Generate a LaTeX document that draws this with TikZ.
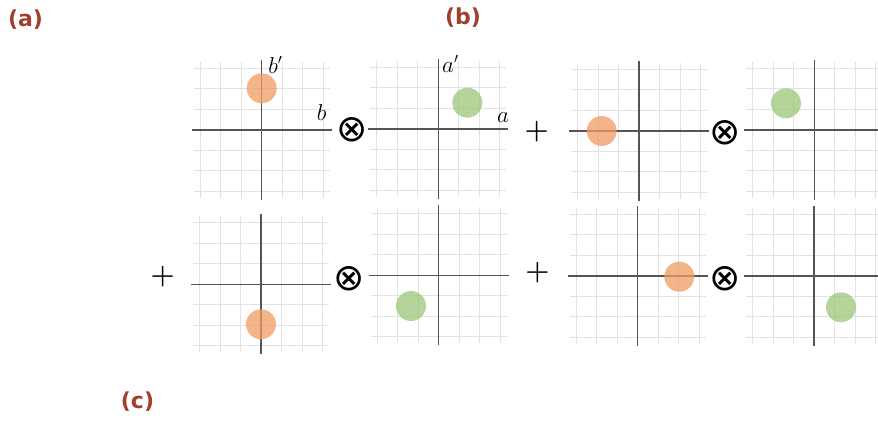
\documentclass[tikz,border=0pt]{standalone}
\usepackage{fontspec}
\newfontfamily\tagfont{DejaVu Sans}
\definecolor{tagred}{RGB}{160,64,44}
\definecolor{dotorange}{RGB}{240,155,99}
\definecolor{dotgreen}{RGB}{155,198,120}
\definecolor{gridgray}{RGB}{226,226,226}
\definecolor{axisgray}{RGB}{85,85,85}
\begin{document}
\begin{tikzpicture}[x=0.75pt, y=-0.75pt,
  gridline/.style={gridgray, line width=0.75pt},
  axisline/.style={axisgray, line width=1.1pt},
  dot/.style={circle, inner sep=0pt, minimum size=22.5pt, fill opacity=0.75},
  dotA/.style={dot, fill=dotorange},
  dotB/.style={dot, fill=dotgreen},
  op/.style={inner sep=0pt, font=\fontsize{20}{20}\selectfont\boldmath},
  tensor/.style={inner sep=0pt, font=\tagfont\fontsize{28}{28}\selectfont},
  lbl/.style={inner sep=0pt, font=\fontsize{16}{16}\selectfont},
  tag/.style={inner sep=0pt, text=tagred, font=\tagfont\bfseries\fontsize{16.5}{18}\selectfont}]
  \useasboundingbox (0,0) rectangle (878,423);
  % panels: grid and axes
  \foreach \pname/\cx/\cy in {p1/261.7/130, p2/438.3/129, p3/639/131, p4/814.3/130,
                              p5/261/284.3, p6/438.7/275.3, p7/637.7/276, p8/814/276} {
    \coordinate (\pname) at (\cx,\cy);
    \begin{scope}[shift={(\cx,\cy)}]
      \foreach \k in {-3,-2,-1,1,2,3} {
        \draw[gridline] (\k*20.5,-68) -- (\k*20.5,68);
        \draw[gridline] (-68,\k*20.5) -- (68,\k*20.5);
      }
      \draw[axisline] (-70,0) -- (70,0);
      \draw[axisline] (0,-70) -- (0,70);
    \end{scope}
  }
  % states
  \node[dotA] (o1) at (261.7,88.3) {};
  \node[dotB] (g1) at (467.3,102.7) {};
  \node[dotA] (o2) at (601.7,131) {};
  \node[dotB] (g2) at (786,103.3) {};
  \node[dotA] (o3) at (261,324.3) {};
  \node[dotB] (g3) at (411,306) {};
  \node[dotA] (o4) at (679.3,276.7) {};
  \node[dotB] (g4) at (841,307.3) {};
  % axis labels
  \node[lbl] (bp) at (275.5,65) {$b'$};
  \node[lbl] (bx) at (321.7,113) {$b$};
  \node[lbl] (ap) at (450.5,64) {$a'$};
  \node[lbl] (ax) at (503,118) {$a$};
  % operators
  \node[tensor] (t1) at (351.7,130) {⊗};
  \node[tensor] (t2) at (725,132.7) {⊗};
  \node[tensor] (t3) at (349.3,278.3) {⊗};
  \node[tensor] (t4) at (725,278.3) {⊗};
  \node[op] (s1) at (536.7,131.7) {$+$};
  \node[op] (s2) at (162.7,276.7) {$+$};
  \node[op] (s3) at (537.5,272.7) {$+$};
  % tags
  \node[tag] (ta) at (25.5,20) {(a)};
  \node[tag] (tb) at (463,18) {(b)};
  \node[tag] (tc) at (137.5,402) {(c)};
\end{tikzpicture}
\end{document}
